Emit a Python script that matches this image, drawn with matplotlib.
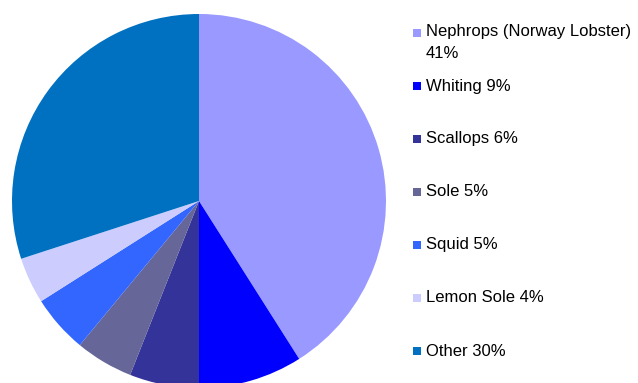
import matplotlib.pyplot as plt
from matplotlib.patches import Rectangle

labels = ["Nephrops (Norway Lobster)\n41%", "Whiting 9%", "Scallops 6%", "Sole 5%",
          "Squid 5%", "Lemon Sole 4%", "Other 30%"]
values = [41, 9, 6, 5, 5, 4, 30]
colors = ["#9999FF", "#0000FF", "#333399", "#666699", "#3366FF", "#CCCCFF", "#0070C0"]

W, H = 638, 383
plt.rcParams['font.family'] = ['Liberation Sans', 'DejaVu Sans']
fig = plt.figure(figsize=(W / 100, H / 100), dpi=100)

# pie: centre (199, 201) px, radius 187 px
cx, cy, r = 199, 201, 187
ax = fig.add_axes([(cx - r) / W, (H - cy - r) / H, 2 * r / W, 2 * r / H])
ax.pie(values, colors=colors, startangle=90, counterclock=False, radius=1,
       wedgeprops=dict(linewidth=0))
ax.set_xlim(-1, 1)
ax.set_ylim(-1, 1)
ax.set_aspect('equal')
ax.axis('off')

# legend drawn by hand
ys = [33, 86, 139, 192, 245, 298, 351]
for lab, col, y in zip(labels, colors, ys):
    fig.patches.append(Rectangle((413 / W, (H - y - 4) / H), 8 / W, 8 / H,
                                 transform=fig.transFigure, facecolor=col, edgecolor='none'))
    if '\n' in lab:
        fig.text(426 / W, (H - y + 9) / H, lab, fontsize=12, va='top', ha='left',
                 linespacing=1.55)
    else:
        fig.text(426 / W, (H - y) / H, lab, fontsize=12, va='center', ha='left')

fig.savefig("out.png", dpi=100)
